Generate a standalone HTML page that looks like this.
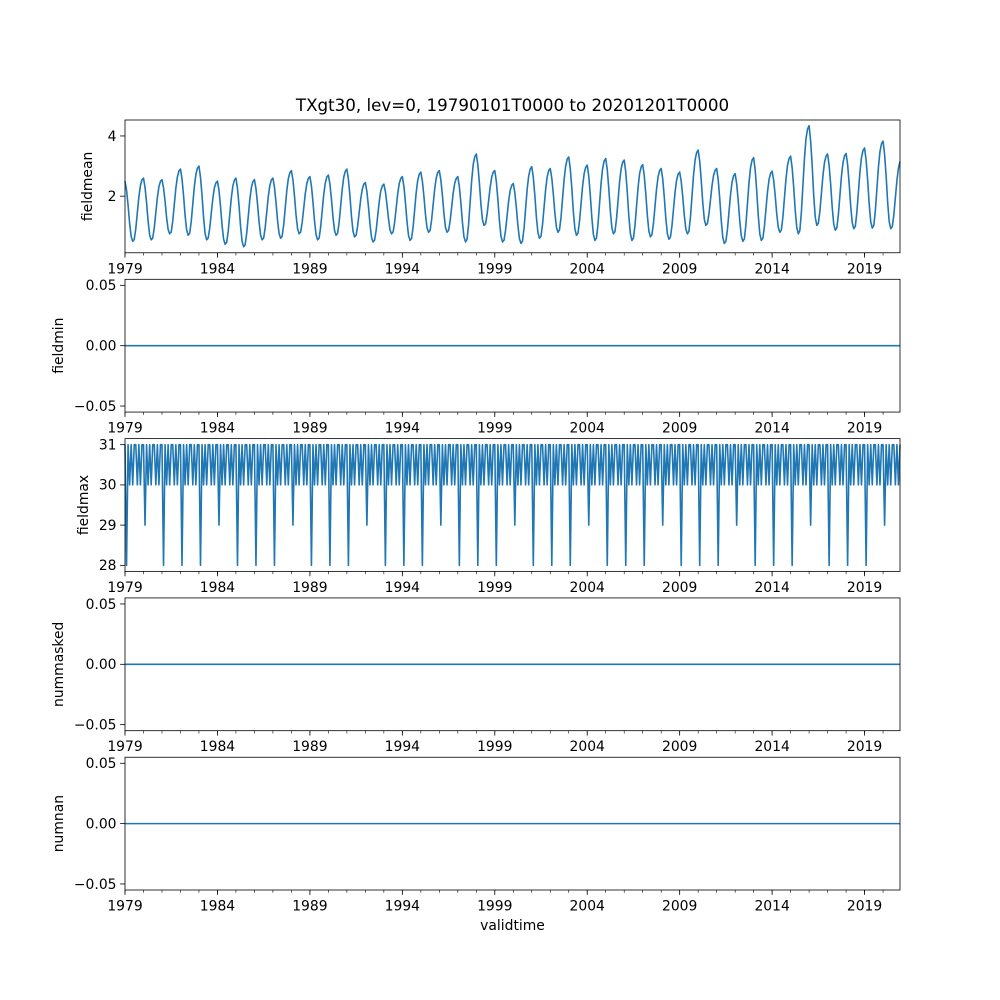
<!DOCTYPE html>
<html><head><meta charset="utf-8"><style>
body{margin:0;background:#fff}
svg{display:block;font-family:"DejaVu Sans","Liberation Sans",sans-serif}
</style></head><body>
<svg id="fig" width="1000" height="1000" viewBox="0 0 1000 1000">
<rect width="1000" height="1000" fill="#fff"/>
<text x="512.5" y="111" font-size="16.7" text-anchor="middle" fill="#000">TXgt30, lev=0, 19790101T0000 to 20201201T0000</text>
</svg>
<script>
// fieldmean monthly values, 1979-01 .. 2020-12
const fieldmean = [
2.5,2.2,1.7,1.1,0.66,0.5,0.56,0.92,1.45,1.97,2.35,2.54,
2.6,2.29,1.78,1.17,0.71,0.55,0.61,0.95,1.45,1.95,2.31,2.49,
2.55,2.28,1.83,1.29,0.89,0.75,0.81,1.18,1.72,2.26,2.64,2.84,
2.9,2.57,2.02,1.36,0.88,0.7,0.77,1.16,1.74,2.31,2.72,2.93,
3.0,2.63,2.02,1.29,0.75,0.55,0.61,0.94,1.43,1.92,2.27,2.44,
2.5,2.19,1.66,1.03,0.57,0.4,0.47,0.84,1.39,1.94,2.34,2.53,
2.6,2.26,1.69,1.0,0.5,0.32,0.39,0.77,1.32,1.88,2.28,2.48,
2.55,2.25,1.75,1.15,0.71,0.55,0.61,0.96,1.47,1.99,2.35,2.54,
2.6,2.3,1.8,1.2,0.76,0.6,0.67,1.05,1.61,2.18,2.58,2.78,
2.85,2.54,2.01,1.38,0.92,0.75,0.81,1.13,1.6,2.08,2.42,2.59,
2.65,2.34,1.81,1.18,0.72,0.55,0.61,0.98,1.52,2.06,2.44,2.64,
2.7,2.4,1.9,1.3,0.86,0.7,0.77,1.14,1.69,2.24,2.64,2.83,
2.9,2.56,2.0,1.33,0.83,0.65,0.7,1.01,1.46,1.91,2.23,2.4,
2.45,2.15,1.66,1.07,0.63,0.48,0.54,0.86,1.34,1.82,2.17,2.34,
2.4,2.15,1.74,1.25,0.88,0.75,0.81,1.13,1.6,2.08,2.42,2.59,
2.65,2.33,1.8,1.17,0.7,0.53,0.6,0.98,1.55,2.12,2.53,2.73,
2.8,2.5,2.0,1.4,0.96,0.8,0.86,1.21,1.72,2.24,2.6,2.79,
2.85,2.54,2.03,1.42,0.96,0.8,0.86,1.17,1.63,2.1,2.43,2.59,
2.65,2.32,1.78,1.13,0.65,0.48,0.57,1.06,1.79,2.52,3.05,3.31,
3.4,3.04,2.45,1.74,1.22,1.03,1.08,1.39,1.85,2.3,2.63,2.8,
2.85,2.49,1.9,1.19,0.67,0.48,0.54,0.87,1.35,1.84,2.19,2.36,
2.42,2.12,1.62,1.03,0.59,0.43,0.51,0.94,1.58,2.22,2.67,2.9,
2.98,2.62,2.03,1.31,0.79,0.6,0.67,1.06,1.64,2.22,2.64,2.85,
2.92,2.6,2.07,1.44,0.97,0.8,0.88,1.3,1.93,2.55,3.0,3.23,
3.3,2.91,2.26,1.48,0.91,0.7,0.77,1.17,1.75,2.33,2.75,2.96,
3.03,2.66,2.03,1.28,0.73,0.53,0.61,1.07,1.75,2.43,2.92,3.17,
3.25,2.88,2.25,1.5,0.95,0.75,0.82,1.24,1.85,2.47,2.91,3.13,
3.2,2.8,2.13,1.33,0.76,0.53,0.61,1.03,1.66,2.29,2.75,2.97,
3.05,2.69,2.09,1.37,0.84,0.65,0.72,1.1,1.67,2.24,2.65,2.85,
2.92,2.57,1.98,1.27,0.76,0.57,0.64,1.02,1.57,2.13,2.53,2.73,
2.8,2.49,1.98,1.37,0.91,0.75,0.83,1.31,2.0,2.7,3.2,3.45,
3.53,3.16,2.53,1.78,1.23,1.03,1.09,1.41,1.88,2.35,2.69,2.86,
2.92,2.55,1.92,1.18,0.63,0.43,0.5,0.89,1.47,2.05,2.47,2.68,
2.75,2.41,1.85,1.18,0.68,0.5,0.58,1.06,1.75,2.45,2.95,3.2,
3.28,2.87,2.18,1.36,0.75,0.53,0.6,0.99,1.57,2.14,2.55,2.76,
2.83,2.53,2.02,1.41,0.96,0.8,0.88,1.31,1.94,2.57,3.03,3.25,
3.33,2.94,2.3,1.52,0.96,0.75,0.86,1.47,2.37,3.26,3.91,4.23,
4.34,3.84,3.02,2.02,1.3,1.03,1.1,1.5,2.1,2.69,3.12,3.33,
3.4,3.02,2.39,1.63,1.07,0.87,0.95,1.38,2.02,2.66,3.11,3.34,
3.42,3.05,2.42,1.67,1.12,0.92,1.0,1.46,2.13,2.8,3.28,3.52,
3.6,3.2,2.54,1.74,1.15,0.94,1.03,1.52,2.24,2.96,3.48,3.74,
3.83,3.39,2.67,1.79,1.15,0.92,0.99,1.38,1.95,2.52,2.93,3.15];
const fieldmax = [
31,28,31,30,31,30,31,31,30,31,30,31, 31,29,31,30,31,30,31,31,30,31,30,31,
31,28,31,30,31,30,31,31,30,31,30,31, 31,28,31,30,31,30,31,31,30,31,30,31,
31,28,31,30,31,30,31,31,30,31,30,31, 31,29,31,30,31,30,31,31,30,31,30,31,
31,28,31,30,31,30,31,31,30,31,30,31, 31,28,31,30,31,30,31,31,30,31,30,31,
31,28,31,30,31,30,31,31,30,31,30,31, 31,29,31,30,31,30,31,31,30,31,30,31,
31,28,31,30,31,30,31,31,30,31,30,31, 31,28,31,30,31,30,31,31,30,31,30,31,
31,28,31,30,31,30,31,31,30,31,30,31, 31,29,31,30,31,30,31,31,30,31,30,31,
31,28,31,30,31,30,31,31,30,31,30,31, 31,28,31,30,31,30,31,31,30,31,30,31,
31,28,31,30,31,30,31,31,30,31,30,31, 31,29,31,30,31,30,31,31,30,31,30,31,
31,28,31,30,31,30,31,31,30,31,30,31, 31,28,31,30,31,30,31,31,30,31,30,31,
31,28,31,30,31,30,31,31,30,31,30,31, 31,29,31,30,31,30,31,31,30,31,30,31,
31,28,31,30,31,30,31,31,30,31,30,31, 31,28,31,30,31,30,31,31,30,31,30,31,
31,28,31,30,31,30,31,31,30,31,30,31, 31,29,31,30,31,30,31,31,30,31,30,31,
31,28,31,30,31,30,31,31,30,31,30,31, 31,28,31,30,31,30,31,31,30,31,30,31,
31,28,31,30,31,30,31,31,30,31,30,31, 31,29,31,30,31,30,31,31,30,31,30,31,
31,28,31,30,31,30,31,31,30,31,30,31, 31,28,31,30,31,30,31,31,30,31,30,31,
31,28,31,30,31,30,31,31,30,31,30,31, 31,29,31,30,31,30,31,31,30,31,30,31,
31,28,31,30,31,30,31,31,30,31,30,31, 31,28,31,30,31,30,31,31,30,31,30,31,
31,28,31,30,31,30,31,31,30,31,30,31, 31,29,31,30,31,30,31,31,30,31,30,31,
31,28,31,30,31,30,31,31,30,31,30,31, 31,28,31,30,31,30,31,31,30,31,30,31,
31,28,31,30,31,30,31,31,30,31,30,31, 31,29,31,30,31,30,31,31,30,31,30,31];
const fieldminValue = 0;
const nummaskedValue = 0;
const numnanValue = 0;
const xTickLabels = ["1979","1984","1989","1994","1999","2004","2009","2014","2019"];
const startYear = 1979;
const meanTicks = [2, 4];
const maxTicks = [28, 29, 30, 31];
const zeroTicks = [-0.05, 0.0, 0.05];
const zeroTickLabels = ["\u22120.05","0.00","0.05"];

const NS = "http://www.w3.org/2000/svg";
const svg = document.getElementById('fig');
const L = 125, R = 900, H = 132.76, GAP = 26.55, TOP = 120;
const nMonths = fieldmean.length;
const tEnd = startYear + (nMonths - 1) / 12;
const labelX = [92, 63, 88, 63, 63];
function xs(t){ return L + (t - startYear) / (tEnd - startYear) * (R - L); }
function mk(tag, attrs, parent){ const e = document.createElementNS(NS, tag); for (const k in attrs) e.setAttribute(k, attrs[k]); (parent||svg).appendChild(e); return e; }

function panel(i, name, ymin, ymax, ticks, tickLabels, series, constVal){
  const top = TOP + i * (H + GAP), bot = top + H;
  const ys = v => bot - (v - ymin) / (ymax - ymin) * H;
  const g = mk('g', {});
  
  
  let d;
  if (series) {
    d = series.map((v, k) => (k ? 'L' : 'M') + xs(startYear + k / 12).toFixed(2) + ',' + ys(v).toFixed(2)).join('');
  } else {
    d = 'M' + xs(startYear) + ',' + ys(constVal) + 'L' + xs(tEnd) + ',' + ys(constVal);
  }
  const line = mk('path', {d: d, fill: 'none', stroke: '#1f77b4', 'stroke-width': 1.6, 'stroke-linejoin': 'round'}, g);
  
  
  const frame = mk('rect', {x: L, y: top, width: R - L, height: H, fill: 'none', stroke: '#000', 'stroke-width': 0.8}, g);
  
  
  ticks.forEach((v, k) => {
    const y = ys(v);
    mk('line', {x1: L - 4.9, x2: L, y1: y, y2: y, stroke: '#000', 'stroke-width': 0.8}, g);
    const t = mk('text', {x: L - 8.5, y: y + 4.8, 'font-size': 13.9, 'text-anchor': 'end', fill: '#000'}, g);
    t.textContent = tickLabels[k];
    
    
  });
  for (let yr = startYear; yr <= tEnd; yr++) {
    mk('line', {x1: xs(yr), x2: xs(yr), y1: bot, y2: bot + 2.8, stroke: '#000', 'stroke-width': 0.6}, g);
  }
  xTickLabels.forEach(lbl => {
    const x = xs(+lbl);
    mk('line', {x1: x, x2: x, y1: bot, y2: bot + 4.9, stroke: '#000', 'stroke-width': 0.8}, g);
    const t = mk('text', {x: x, y: bot + 20.5, 'font-size': 13.9, 'text-anchor': 'middle', fill: '#000'}, g);
    t.textContent = lbl;
    
    
  });
  const yl = mk('text', {x: 0, y: 0, 'font-size': 13.9, 'text-anchor': 'middle', fill: '#000', transform: 'translate(' + labelX[i] + ',' + (top + H / 2) + ') rotate(-90)'}, g);
  yl.textContent = name;
  
  
  return bot;
}
panel(0, 'fieldmean', 0.12, 4.53, meanTicks, meanTicks.map(String), fieldmean);
panel(1, 'fieldmin', -0.055, 0.055, zeroTicks, zeroTickLabels, null, fieldminValue);
panel(2, 'fieldmax', 27.85, 31.15, maxTicks, maxTicks.map(String), fieldmax);
panel(3, 'nummasked', -0.055, 0.055, zeroTicks, zeroTickLabels, null, nummaskedValue);
const lastBot = panel(4, 'numnan', -0.055, 0.055, zeroTicks, zeroTickLabels, null, numnanValue);
const xl = mk('text', {x: (L + R) / 2, y: lastBot + 40, 'font-size': 13.9, 'text-anchor': 'middle', fill: '#000'});
xl.textContent = 'validtime';


</script>
</body></html>
